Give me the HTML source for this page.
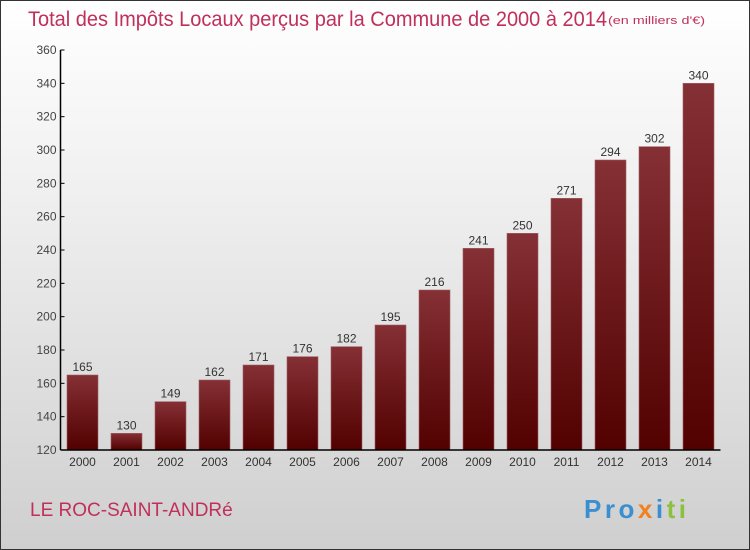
<!DOCTYPE html>
<html><head><meta charset="utf-8"><style>
body{margin:0;width:750px;height:550px;overflow:hidden;font-family:"Liberation Sans",sans-serif}
#wrap{position:absolute;left:0;top:0;width:748px;height:548px;border:1px solid #333;background:linear-gradient(#ffffff,#f2f2f2 30%,#cfcfcf)}
</style></head><body>
<div id="wrap">
<svg id="chart" width="750" height="550" style="position:absolute;left:-1px;top:-1px">
<defs><linearGradient id="bg" x1="0" y1="0" x2="0" y2="1"><stop offset="0" stop-color="#853035"/><stop offset="1" stop-color="#520000"/></linearGradient></defs>
<text x="28" y="26" font-size="21" fill="#c0305a" textLength="579" lengthAdjust="spacingAndGlyphs">Total des Impôts Locaux perçus par la Commune de 2000 à 2014</text>
<text x="608" y="24" font-size="11" fill="#c0305a" textLength="97" lengthAdjust="spacingAndGlyphs">(en milliers d'€)</text>
<text x="30" y="516" font-size="19" fill="#c0305a">LE ROC-SAINT-ANDRé</text>
<text x="584" y="518" font-size="26" font-weight="bold" textLength="102"><tspan fill="#3a8fd0">Pro</tspan><tspan fill="#f08020">x</tspan><tspan fill="#3a8fd0">i</tspan><tspan fill="#8cc040">ti</tspan></text>
<g id="g"></g>
</svg></div>
<script>
const years=["2000","2001","2002","2003","2004","2005","2006","2007","2008","2009","2010","2011","2012","2013","2014"];
const values=[165,130,149,162,171,176,182,195,216,241,250,271,294,302,340];
const ticks=[120,140,160,180,200,220,240,260,280,300,320,340,360];
const NS="http://www.w3.org/2000/svg",g=document.getElementById('g');
const x0=60.5,band=44,y=v=>450-(v-120)*400/240;
function mk(t,a){const e=document.createElementNS(NS,t);for(const k in a)e.setAttribute(k,a[k]);g.appendChild(e);return e;}
ticks.forEach(t=>{
const l=mk('line',{x1:x0,x2:x0+4,y1:y(t),y2:y(t),stroke:'#000'});


const tx=mk('text',{x:x0-4,y:y(t)+4,'font-size':12,fill:'#444','text-anchor':'end'});tx.textContent=t;


});
years.forEach((yr,i)=>{
const bx=x0+i*band+6.5,v=values[i];
const r=mk('rect',{x:bx,y:y(v),width:31,height:450-y(v),fill:'url(#bg)',stroke:'#a06065','stroke-width':0.6});


const vt=mk('text',{x:bx+15.5,y:y(v)-4,'font-size':12,fill:'#333','text-anchor':'middle'});vt.textContent=v;


const xt=mk('text',{x:bx+15.5,y:466,'font-size':12,fill:'#333','text-anchor':'middle'});xt.textContent=yr;


});
const ya=mk('line',{x1:x0,x2:x0,y1:y(360),y2:450,stroke:'#000','stroke-width':1.5});


const xa=mk('line',{x1:x0,x2:x0+15*band,y1:450,y2:450,stroke:'#000','stroke-width':1.5});


</script></body></html>
